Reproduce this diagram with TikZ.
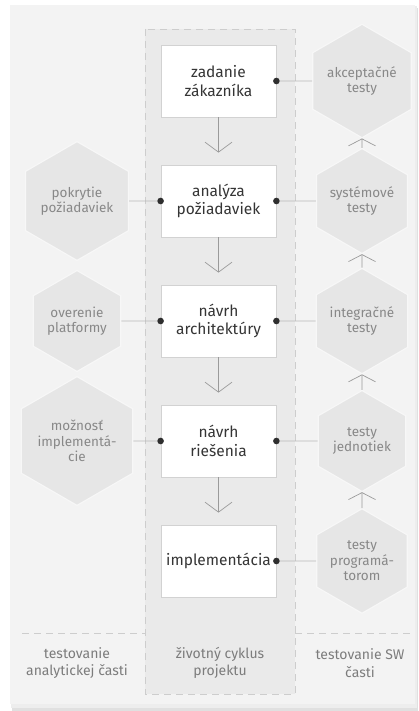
\documentclass[tikz,border=0pt]{standalone}
\usepackage{fontspec}
\setmainfont{Fira Sans}
\usetikzlibrary{shapes.geometric,arrows.meta}
\definecolor{panel}{HTML}{F3F3F3}
\definecolor{colfill}{HTML}{EAEAEA}
\definecolor{colline}{HTML}{CDCDCD}
\definecolor{boxline}{HTML}{D2D2D2}
\definecolor{boxtext}{HTML}{353535}
\definecolor{hexfill}{HTML}{E6E6E6}
\definecolor{hexline}{HTML}{F7F7F7}
\definecolor{hextext}{HTML}{888888}
\definecolor{linkc}{HTML}{B8B8B8}
\definecolor{arrowc}{HTML}{9A9A9A}
\definecolor{dotc}{HTML}{2E2E2E}
\definecolor{labtext}{HTML}{7C7C7C}
\begin{document}
\begin{tikzpicture}[x=1pt,y=-1pt,
  stagebox/.style={draw=boxline, fill=white, line width=0.8pt, minimum width=115pt, minimum height=72pt,
    inner sep=0pt, align=center, font=\fontsize{15.5}{18.5}\selectfont, text=boxtext},
  hexa/.style={regular polygon, regular polygon sides=6, shape border rotate=30, minimum size=101pt,
    inner sep=0pt, fill=hexfill, draw=hexline, line width=1.2pt, align=center,
    font=\fontsize{13.5}{15.5}\selectfont, text=hextext},
  link/.style={draw=linkc, line width=0.7pt},
  flow/.style={draw=arrowc, line width=0.7pt, shorten >=12pt,
    -{Straight Barb[length=10pt,width=27pt,line width=0.7pt]}},
  upflow/.style={draw=arrowc, line width=0.7pt,
    -{Straight Barb[length=7pt,width=27pt,line width=0.7pt]}},
  lab/.style={align=center, font=\fontsize{14}{17.5}\selectfont, text=labtext},
  dot/.style={fill=dotc}
]
\useasboundingbox (0,0) rectangle (418,711);
\fill[white] (0,0) rectangle (418,711);
% panel with soft shadow
\fill[black!12] (12,8) rectangle (418,711);
\fill[black!7] (11,6) rectangle (417,708);
\fill[panel] (10,5) rectangle (415,704);
% middle column
\draw[colline, fill=colfill, line width=0.8pt, dash pattern=on 7pt off 5pt] (145,29) rectangle (295,694);
% horizontal dashed separator
\draw[colline, line width=0.8pt, dash pattern=on 7pt off 5pt] (22,633) -- (145,633);
\draw[colline, line width=0.8pt, dash pattern=on 7pt off 5pt] (295,633) -- (413,633);

% stage boxes
\node[stagebox] (b1) at (218.5,81) {zadanie\\zákazníka};
\node[stagebox] (b2) at (218.5,201) {analýza\\požiadaviek};
\node[stagebox] (b3) at (218.5,321) {návrh\\architektúry};
\node[stagebox] (b4) at (218.5,441) {návrh\\riešenia};
\node[stagebox] (b5) at (218.5,561) {implementácia};

% right hexagons
\node[hexa] (r1) at (362,81) {akceptačné\\testy};
\node[hexa] (r2) at (362,201) {systémové\\testy};
\node[hexa] (r3) at (362,321) {integračné\\testy};
\node[hexa] (r4) at (362,441) {testy\\jednotiek};
\node[hexa] (r5) at (362,561) {testy\\programá-\\torom};

% left hexagons
\node[hexa] (l2) at (77,201) {pokrytie\\požiadaviek};
\node[hexa] (l3) at (77,321) {overenie\\platformy};
\node[hexa] (l4) at (77,441) {možnosť\\implementá-\\cie};

% flow arrows
\draw[flow] (b1) -- (b2);
\draw[flow] (b2) -- (b3);
\draw[flow] (b3) -- (b4);
\draw[flow] (b4) -- (b5);

\draw[upflow] (r2.north) -- (r1.south);
\draw[upflow] (r3.north) -- (r2.south);
\draw[upflow] (r4.north) -- (r3.south);
\draw[upflow] (r5.north) -- (r4.south);

% links
\foreach \i in {1,...,5} {
  \draw[link] (b\i.east) -- (r\i.west);
  \fill[dot] (b\i.east) circle (3.3pt);
}
\foreach \i in {2,3,4} {
  \draw[link] (l\i.east) -- (b\i.west);
  \fill[dot] (b\i.west) circle (3.3pt);
}

% bottom labels
\node[lab] (t1) at (77,663) {testovanie\\analytickej časti};
\node[lab] (t2) at (220,663) {životný cyklus\\projektu};
\node[lab] (t3) at (360,663) {testovanie SW\\časti};
\end{tikzpicture}
\end{document}
